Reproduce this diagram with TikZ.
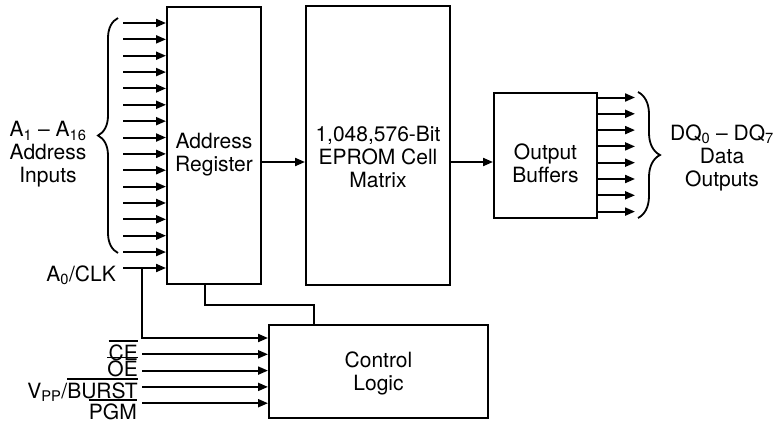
\documentclass[tikz,border=0pt]{standalone}
\usepackage{fontspec}
\setmainfont{TeX Gyre Heros}
\usetikzlibrary{arrows.meta, decorations.pathreplacing}

\newcommand{\barred}[1]{\leavevmode\vbox{\hrule height 1.4pt\kern 2.6pt\hbox{#1}}}

\begin{document}
\begin{tikzpicture}[x=1pt, y=-1pt, font=\fontsize{21}{23}\selectfont,
  box/.style={draw, line width=2pt, inner sep=0pt},
  sig/.style={-{Triangle[length=10pt, width=8pt]}, line width=2pt},
  wire/.style={line width=2pt},
  lbl/.style={inner sep=0pt},
  brc/.style={decorate, decoration={brace, amplitude=#1}, line width=1.8pt}]
\useasboundingbox (0,0) rectangle (776,421);

% blocks
\node[box, minimum width=94pt, minimum height=277pt] (addr) at (214,145) {};
\node[box, minimum width=144pt, minimum height=279pt] (eprom) at (378,145.5) {};
\node[box, minimum width=103pt, minimum height=125pt] (obuf) at (545.5,155.5) {};
\node[box, minimum width=219pt, minimum height=93pt] (ctrl) at (378.5,371.5) {};

\node[align=center] (addrtxt) at (214,154.5) {Address\\Register};
\node[align=center] (epromtxt) at (378,156.5) {1,048,576-Bit\\EPROM Cell\\Matrix};
\node[align=center] (obuftxt) at (545.5,163.5) {Output\\Buffers};
\node[align=center] (ctrltxt) at (378.5,373) {Control\\Logic};

% address inputs
\foreach \i in {0,...,14} {
  \coordinate (in\i) at (123,23+16.36*\i);
  \draw[sig] (in\i) -- (in\i -| addr.west);
}
\draw[brc=20pt] (118,253) -- (118,18);
\node[align=center] (ainlbl) at (48,154.5) {A\textsubscript{1} -- A\textsubscript{16}\\Address\\Inputs};

% A0/CLK, also to control logic
\coordinate (clk) at (123,268);
\coordinate (tap) at (142,268);
\coordinate (c0) at (142,338);
\draw[sig] (clk) -- (clk -| addr.west);
\draw[sig] (tap) -- (c0) -- (c0 -| ctrl.west);
\node[lbl, anchor=base east] (clklbl) at (116,281) {A\textsubscript{0}/CLK};

% control inputs
\coordinate (c1) at (142,354.3);
\coordinate (c2) at (142,370.6);
\coordinate (c3) at (142,386.9);
\coordinate (c4) at (142,403.2);
\foreach \i in {1,...,4}
  \draw[sig] (c\i) -- (c\i -| ctrl.west);
\node[lbl, anchor=base east] (celbl) at (138,360) {\barred{CE}};
\node[lbl, anchor=base east] (oelbl) at (138,376.5) {\barred{OE}};
\node[lbl, anchor=base east] (vpplbl) at (138,398) {V\textsubscript{PP}/\barred{BURST}};
\node[lbl, anchor=base east] (pgmlbl) at (137,419) {\barred{PGM}};

% register to control logic
\coordinate (kx) at (205,305);
\coordinate (ky) at (314,305);
\draw[wire] (addr.south -| kx) -- (kx) -- (ky) -- (ky |- ctrl.north);

% data path
\coordinate (bus) at (0,162);
\draw[sig] (addr.east |- bus) -- (eprom.west |- bus);
\draw[sig] (eprom.east |- bus) -- (obuf.west |- bus);

% data outputs
\foreach \i in {0,...,7} {
  \coordinate (out\i) at (635,97.5+16.3*\i);
  \draw[sig] (out\i -| obuf.east) -- (out\i);
}
\draw[brc=22pt] (638,92) -- (638,218);
\node[align=center] (doutlbl) at (722,157.5) {DQ\textsubscript{0} -- DQ\textsubscript{7}\\Data\\Outputs};
\end{tikzpicture}
\end{document}
